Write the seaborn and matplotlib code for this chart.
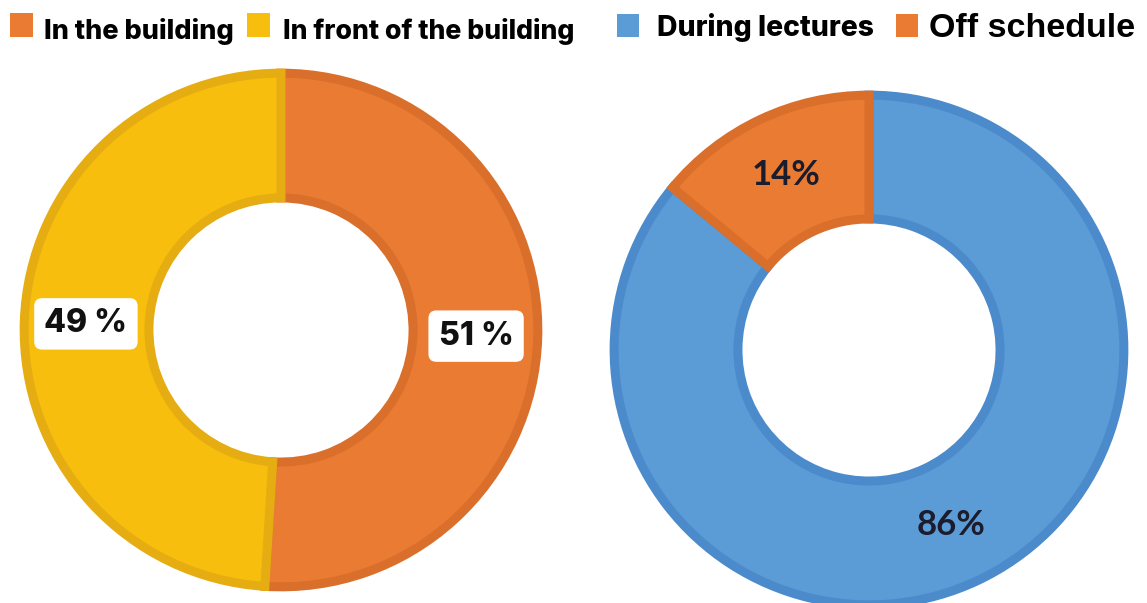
import matplotlib.pyplot as plt
import seaborn as sns
from matplotlib.patches import Rectangle

# left chart: where
place_labels = ["In the building", "In front of the building"]
place_values = [51, 49]
place_colors = ["#EA7B33", "#F7BE0E"]
place_edges = ["#D96F2B", "#E6AD12"]

# right chart: when
time_labels = ["During lectures", "Off schedule"]
time_values = [86, 14]
time_colors = ["#5B9BD6", "#EA7B33"]
time_edges = ["#4C8BCB", "#D96F2B"]

W, H = 1147, 603

sns.set_theme(style="white")
plt.rcParams["font.family"] = ["Inter", "DejaVu Sans"]

fig = plt.figure(figsize=(W / 100, H / 100), dpi=100)


def px_axes(cx, cy, r):
    return fig.add_axes([(cx - r) / W, (H - cy - r) / H, 2 * r / W, 2 * r / H])


def donut(ax, values, colors, edges, fmt, **text_kw):
    wedges, _, autotexts = ax.pie(values, colors=colors, startangle=90, counterclock=False,
                                  radius=0.984, autopct=fmt, pctdistance=0.76,
                                  wedgeprops=dict(width=0.478, linewidth=6.5))
    for w, e in zip(wedges, edges):
        w.set_edgecolor(e)
    for t in autotexts:
        t.set(**text_kw)
    # pie() resets limits, so set them afterwards
    ax.set_xlim(-1, 1)
    ax.set_ylim(-1, 1)
    ax.set_aspect("equal")
    ax.axis("off")


def legend_item(x, y0, y1, color, label, tx, baseline, **kw):
    fig.add_artist(Rectangle((x / W, (H - y1) / H), (y1 - y0) / W * 0.95, (y1 - y0) / H,
                             transform=fig.transFigure, color=color, lw=0))
    fig.text(tx / W, (H - baseline) / H, label, ha="left", va="baseline",
             color="black", **kw)


ax1 = px_axes(281, 330, 261)
donut(ax1, place_values, place_colors, place_edges, lambda p: f"{p:.0f} %",
      fontsize=23, fontweight="heavy", color="#111111",
      bbox=dict(boxstyle="round,pad=0.32,rounding_size=0.25", fc="white", ec="none"))

ax2 = px_axes(869, 350, 259)
donut(ax2, time_values, time_colors, time_edges, lambda p: f"{p:.0f}%",
      fontsize=25, fontweight="bold", color="#1b1c2c", family=["Lato", "DejaVu Sans"])

# legends
legend_item(10, 13, 37, place_colors[0], place_labels[0], 44, 39, fontsize=19.5, fontweight="heavy")
legend_item(247, 13, 37, place_colors[1], place_labels[1], 283, 39, fontsize=19.2, fontweight="heavy")
legend_item(617, 14, 37, time_colors[0], time_labels[0], 657, 36, fontsize=20.4, fontweight="heavy")
legend_item(896, 14, 37, time_colors[1], time_labels[1], 929, 37, fontsize=24.5, fontweight="bold",
            family=["Liberation Sans", "DejaVu Sans"])

fig.savefig("out.png", dpi=100)
